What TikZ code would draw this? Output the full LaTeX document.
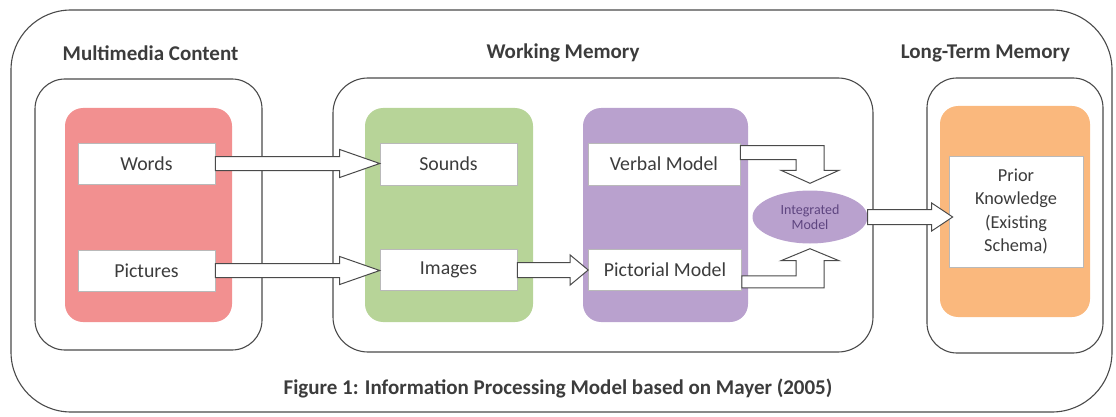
\documentclass[tikz,border=0pt]{standalone}
\usepackage{fontspec}
\setmainfont{Carlito}
\usetikzlibrary{calc,shapes.geometric}

\definecolor{linegray}{HTML}{4A4A4A}
\definecolor{textgray}{HTML}{3C3C3C}
\definecolor{wordred}{HTML}{F29090}
\definecolor{soundgreen}{HTML}{B7D498}
\definecolor{modelpurple}{HTML}{B9A1CE}
\definecolor{priororange}{HTML}{FAB87D}
\definecolor{intpurple}{HTML}{5E4580}

% horizontal block arrow: from, to, head length, shaft half width, head half width
\newcommand\hblock[5]{%
  \draw[blockarrow] let \p1=(#1), \p2=(#2) in
    (\x1,\y1+#4pt) -- (\x2-#3pt,\y1+#4pt) -- (\x2-#3pt,\y1+#5pt) -- (\x2,\y1)
    -- (\x2-#3pt,\y1-#5pt) -- (\x2-#3pt,\y1-#4pt) -- (\x1,\y1-#4pt) -- cycle;}

\begin{document}
\begin{tikzpicture}[x=1pt,y=-1pt,
  frame/.style={draw=linegray, line width=1.1pt, rounded corners=#1, inner sep=0pt},
  panel/.style={fill=#1, rounded corners=18pt, inner sep=0pt},
  item/.style={fill=white, draw=gray!55, line width=0.6pt, inner sep=0pt,
    text=textgray, font=\fontsize{19.8}{23}\selectfont},
  heading/.style={text=textgray, font=\fontsize{21}{24}\selectfont\bfseries, inner sep=0pt},
  blockarrow/.style={draw=linegray, fill=white, line width=1pt, line join=miter}]

\useasboundingbox (0,0) rectangle (1116,417);

% outer frame
\node[frame=60pt, minimum width=1101, minimum height=402] (outer) at (561.5,211) {};

% headings and caption
\node[heading] (hmm) at (150.5,53) {Multimedia Content};
\node[heading] (hwm) at (563,53) {Working Memory};
\node[heading] (hlt) at (985.5,53) {Long-Term Memory};
\node[heading] (caption) at (558,388) {Figure 1: Information Processing Model based on Mayer (2005)};

% stage frames
\node[frame=30pt, minimum width=227, minimum height=271] (mm) at (148.5,214.5) {};
\node[frame=35pt, minimum width=540, minimum height=274] (wm) at (603,215) {};
\node[frame=30pt, minimum width=176, minimum height=275] (lt) at (1015,215.5) {};

% coloured panels
\node[panel=wordred, minimum width=167, minimum height=214] (red) at (148.5,215) {};
\node[panel=soundgreen, minimum width=168, minimum height=214] (green) at (449,215) {};
\node[panel=modelpurple, minimum width=165, minimum height=214] (purple) at (665.5,215) {};
\node[panel=priororange, minimum width=150, minimum height=211] (orange) at (1015,211.5) {};

% items
\node[item, minimum width=137, minimum height=41] (words) at (146.5,163.5) {Words};
\node[item, minimum width=137, minimum height=41] (pictures) at (146.5,270.5) {Pictures};
\node[item, minimum width=137, minimum height=42] (sounds) at (448.5,164) {Sounds};
\node[item, minimum width=137, minimum height=41] (images) at (448.5,270) {Images};
\node[item, minimum width=152, minimum height=42] (verbal) at (664,164) {Verbal Model};
\node[item, minimum width=153, minimum height=41] (pictorial) at (665,270) {Pictorial Model};
\node[item, minimum width=134, minimum height=111, align=center,
  font=\fontsize{18.3}{23.5}\selectfont] (prior) at (1016,211.5)
  {Prior\\Knowledge\\(Existing\\Schema)};

\node[ellipse, fill=modelpurple, minimum width=115, minimum height=53, inner sep=0pt,
  align=center, text=intpurple, font=\fontsize{14}{15}\selectfont] (integrated)
  at (810,217) {Integrated\\Model};

% arrows between stages
\hblock{words.east}{sounds.west}{40}{7}{14}
\hblock{pictures.east}{images.west}{40}{7}{14}
\hblock{images.east}{pictorial.west}{18}{7.5}{15}
\hblock{integrated.east}{$(prior.west)+(4,0)$}{21}{7.5}{14}

% verbal model into integrated model
\draw[blockarrow] let \p1=(verbal.north east), \p2=(integrated.north) in
  (\x1,\y1-3pt) -- (\x2+14pt,\y1-3pt) -- (\x2+14pt,\y2+20pt) -- (\x2+29pt,\y2+20pt)
  -- (\x2,\y2+7pt) -- (\x2-29pt,\y2+20pt) -- (\x2-14pt,\y2+20pt)
  -- (\x2-14pt,\y1-17pt) -- (\x1,\y1-17pt) -- cycle;

% pictorial model into integrated model
\draw[blockarrow] let \p1=(pictorial.south east), \p2=(integrated.south) in
  (\x1,\y1+3pt) -- (\x2+14pt,\y1+3pt) -- (\x2+14pt,\y2-17pt) -- (\x2+29pt,\y2-17pt)
  -- (\x2,\y2-5pt) -- (\x2-29pt,\y2-17pt) -- (\x2-14pt,\y2-17pt)
  -- (\x2-14pt,\y1+15pt) -- (\x1,\y1+15pt) -- cycle;

\end{tikzpicture}
\end{document}
